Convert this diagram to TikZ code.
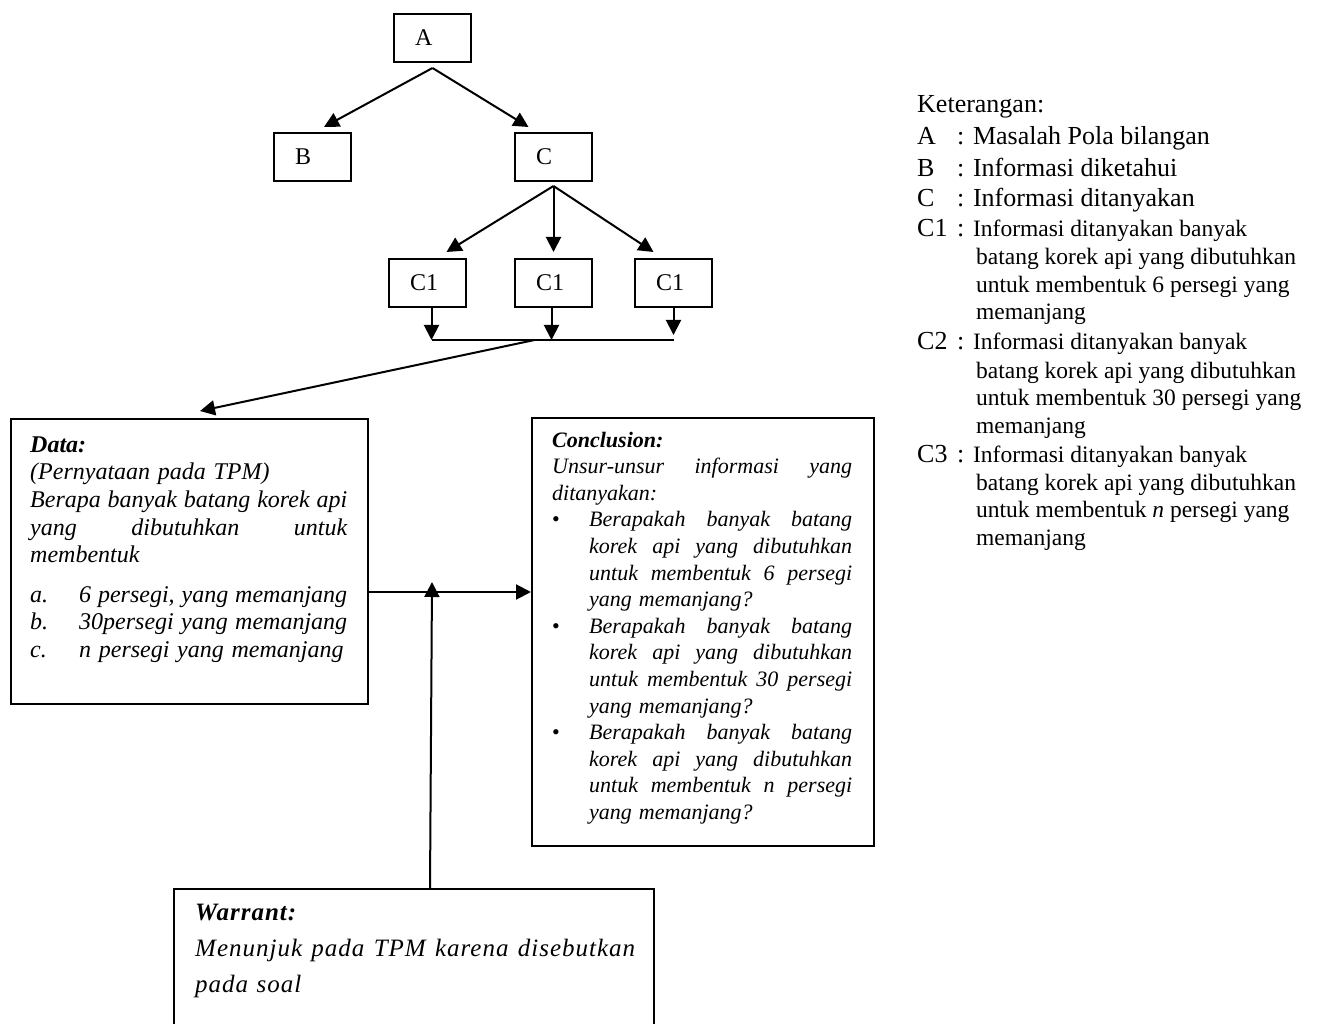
\documentclass[tikz,border=0pt]{standalone}
\usepackage{fontspec}
\setmainfont{Liberation Serif}
\newfontfamily\warrantfont[LetterSpace=4]{Liberation Serif}
\usetikzlibrary{arrows.meta,calc}

\begin{document}
\begin{tikzpicture}[x=1pt,y=-1pt,
  box/.style={draw, line width=2pt},
  treebox/.style={box, anchor=north west, minimum height=48pt, minimum width=77pt,
    text width=35pt, inner xsep=21pt, align=left, font=\fontsize{24}{28}\selectfont},
  link/.style={line width=2pt, -{Triangle[length=15pt,width=15pt]}},
  bar/.style={line width=1.4pt},
  boxtext/.style={anchor=base west, inner sep=0pt},
  legbig/.style={anchor=base west, inner sep=0pt, font=\fontsize{26}{30}\selectfont},
  legsmall/.style={anchor=base west, inner sep=0pt, font=\fontsize{23.5}{28}\selectfont},
]
\useasboundingbox (0,0) rectangle (1323,1024);

% ---------- tree of the problem ----------
\node[treebox] (A)   at (393,13)  {A};
\node[treebox] (B)   at (273,132) {B};
\node[treebox] (C)   at (514,132) {C};
\node[treebox] (C1a) at (388,258) {C1};
\node[treebox] (C1b) at (514,258) {C1};
\node[treebox] (C1c) at (634,258) {C1};

\coordinate (Afork) at ($(A.south)+(0,5)$);
\draw[link] (Afork) -- ($(B.north)+(11.5,-5)$);
\draw[link] (Afork) -- ($(C.north)+(-25,-5)$);

\coordinate (Cfork) at ($(C.south)+(0,4)$);
\draw[link] (Cfork) -- ($(C1a.north)+(19,-6)$);
\draw[link] (Cfork) -- ($(C1b.north)+(0,-6)$);
\draw[link] (Cfork) -- ($(C1c.north)+(-20,-6)$);

\coordinate (barL) at ($(C1a.south)+(4,32)$);
\coordinate (barC) at ($(C1b.south)+(-2,32)$);
\coordinate (barR) at ($(C1c.south)+(0,32)$);
\coordinate (barM) at ($(barL)+(103,0)$);
\draw[link] ($(C1a.south)+(4,0)$) -- (barL);
\draw[link] ($(C1b.south)+(-2,0)$) -- (barC);
\draw[link] ($(C1c.south)+(0,0)$) -- ($(barR)+(0,-5)$);
\draw[bar] (barL) -- (barR);

% ---------- argument boxes ----------
\node[box, anchor=north west, minimum width=357pt, minimum height=285pt, inner sep=0pt] (data) at (10,418) {};
\node[box, anchor=north west, minimum width=342pt, minimum height=428pt, inner sep=0pt] (concl) at (531,417) {};
\node[box, anchor=north west, minimum width=480pt, minimum height=160pt, inner sep=0pt] (warrant) at (173,888) {};

\node[boxtext, text width=317pt] (datatext) at ($(data.north west)+(20,34)$)
{\fontsize{24}{27.7}\selectfont\itshape\spaceskip=0.32em plus 0.2em minus 0.05em
\textbf{Data:}\\
(Pernyataan pada TPM)\\
Berapa\hfill banyak\hfill batang\hfill korek\hfill api\\
yang\hfill dibutuhkan\hfill untuk\\
membentuk\\[11.5pt]
\makebox[49pt][l]{a.}6 persegi, yang memanjang\\
\makebox[49pt][l]{b.}30persegi yang memanjang\\
\makebox[49pt][l]{c.}n persegi yang memanjang\par};

\node[boxtext, text width=300pt] (concltext) at ($(concl.north west)+(21,30)$)
{\fontsize{22}{26.6}\selectfont\itshape\parskip=0pt\spaceskip=0.32em plus 0.2em minus 0.05em
\textbf{Conclusion:}\\
Unsur-unsur\hfill informasi\hfill yang\\
ditanyakan:\\
\makebox[37pt][l]{\upshape\textbullet}Berapakah\hfill banyak\hfill batang\\
\hspace*{37pt}korek\hfill api\hfill yang\hfill dibutuhkan\\
\hspace*{37pt}untuk\hfill membentuk\hfill 6\hfill persegi\\
\hspace*{37pt}yang memanjang?\\
\makebox[37pt][l]{\upshape\textbullet}Berapakah\hfill banyak\hfill batang\\
\hspace*{37pt}korek\hfill api\hfill yang\hfill dibutuhkan\\
\hspace*{37pt}untuk\hfill membentuk\hfill 30\hfill persegi\\
\hspace*{37pt}yang memanjang?\\
\makebox[37pt][l]{\upshape\textbullet}Berapakah\hfill banyak\hfill batang\\
\hspace*{37pt}korek\hfill api\hfill yang\hfill dibutuhkan\\
\hspace*{37pt}untuk\hfill membentuk\hfill n\hfill persegi\\
\hspace*{37pt}yang memanjang?\par};

\node[boxtext, text width=440pt] (warranttext) at ($(warrant.north west)+(22,32)$)
{\warrantfont\fontsize{25}{36}\selectfont\itshape\spaceskip=0.34em plus 0.2em minus 0.05em
\textbf{Warrant:}\\
Menunjuk\hfill pada\hfill TPM\hfill karena\hfill disebutkan\\
pada soal\par};

% ---------- links between the argument parts ----------
\coordinate (join) at ($(data.north east)+(63,174)$);
\draw[link] ($(data.north east)+(0,174)$) -- ($(concl.north west)+(0,175)$);
\draw[link] ($(warrant.north west)+(257,0)$) -- ($(join)+(0,-10)$);
\draw[link] (barM) -- ($(data.north west)+(190,-7)$);

% ---------- legend ----------
\node[legbig] (k0) at (917,113) {Keterangan:};
\node[legbig] (kA) at (917,145) {\makebox[40pt][l]{A}: Masalah Pola bilangan};
\node[legbig] (kB) at (917,177) {\makebox[40pt][l]{B}: Informasi diketahui};
\node[legbig] (kC) at (917,207) {\makebox[40pt][l]{C}: Informasi ditanyakan};

\node[legbig] (kC1) at (917,237) {\makebox[40pt][l]{C1}: {\fontsize{23.5}{28}\selectfont Informasi ditanyakan banyak}};
\node[legsmall] (kC1b) at (976,265) {batang korek api yang dibutuhkan};
\node[legsmall] (kC1c) at (976,293) {untuk membentuk 6 persegi yang};
\node[legsmall] (kC1d) at (976,320) {memanjang};

\node[legbig] (kC2) at (917,350) {\makebox[40pt][l]{C2}: {\fontsize{23.5}{28}\selectfont Informasi ditanyakan banyak}};
\node[legsmall] (kC2b) at (976,378) {batang korek api yang dibutuhkan};
\node[legsmall] (kC2c) at (976,405) {untuk membentuk 30 persegi yang};
\node[legsmall] (kC2d) at (976,433) {memanjang};

\node[legbig] (kC3) at (917,462) {\makebox[40pt][l]{C3}: {\fontsize{23.5}{28}\selectfont Informasi ditanyakan banyak}};
\node[legsmall] (kC3b) at (976,490) {batang korek api yang dibutuhkan};
\node[legsmall] (kC3c) at (976,517) {untuk membentuk \textit{n} persegi yang};
\node[legsmall] (kC3d) at (976,545) {memanjang};
\end{tikzpicture}
\end{document}
